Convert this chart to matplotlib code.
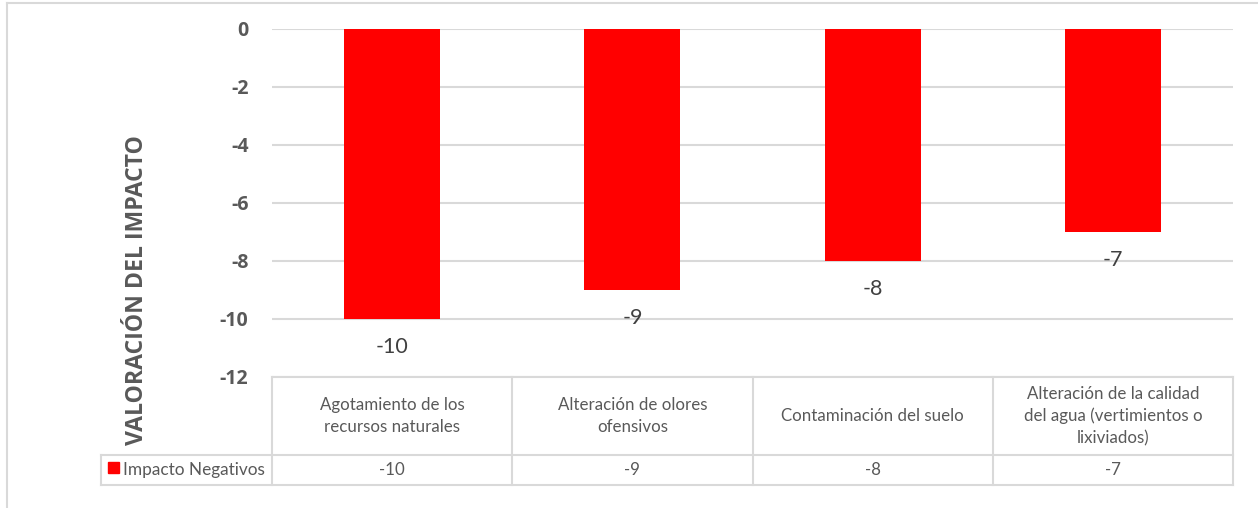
import numpy as np
import matplotlib.pyplot as plt
from matplotlib.lines import Line2D
from matplotlib.patches import Rectangle

# data
categorias = ['Agotamiento de los\nrecursos naturales',
              'Alteración de olores\nofensivos',
              'Contaminación del suelo',
              'Alteración de la calidad\ndel agua (vertimientos o\nlixiviados)']
valores = [-10, -9, -8, -7]
serie = 'Impacto Negativos'
yticks = [0, -2, -4, -6, -8, -10, -12]

W, H = 1258, 508
fig = plt.figure(figsize=(W/100, H/100), dpi=100)

def fx(px): return px / W
def fy(py): return 1 - py / H

gris = '#d9d9d9'
texto = '#595959'

# plot area
x0, x1, ytop, ybot = 272, 1233, 29, 377
ax = fig.add_axes([fx(x0), fy(ybot), fx(x1) - fx(x0), fy(ytop) - fy(ybot)])
x = np.arange(len(valores))
ax.bar(x, valores, width=0.4, color='#ff0000', zorder=3)
ax.set_xlim(-0.5, len(valores) - 0.5)
ax.set_ylim(-12, 0)
ax.set_yticks(yticks)
ax.set_yticklabels([str(v) for v in yticks], fontfamily='Open Sans', fontweight='bold',
                   fontsize=14, color=texto)
ax.tick_params(axis='y', length=0, pad=17)
ax.set_xticks([])
for s in ax.spines.values():
    s.set_visible(False)
ax.grid(axis='y', color=gris, linewidth=1.5, zorder=0)

# eje y: titulo (Excel lo centra sobre grafico + tabla)
fig.text(fx(137), fy(290), 'VALORACIÓN DEL IMPACTO', rotation=90, ha='center', va='center',
         fontfamily='Open Sans', fontweight='bold', fontsize=16.6, color=texto)

for xi, v in zip(x, valores):
    ax.annotate(str(v), (xi, v), xytext=(0, -13), textcoords='offset points',
                ha='center', va='top', fontfamily='Lato', fontsize=15.5, color='#404040')

# data table under the chart
def hline(xa, xb, y):
    fig.add_artist(Line2D([fx(xa), fx(xb)], [fy(y), fy(y)], color=gris, linewidth=1.5))

def vline(xp, ya, yb):
    fig.add_artist(Line2D([fx(xp), fx(xp)], [fy(ya), fy(yb)], color=gris, linewidth=1.5))

t_top, t_mid, t_bot, t_left = 377, 455, 485, 101
hline(x0, x1, t_top)
hline(t_left, x1, t_mid)
hline(t_left, x1, t_bot)
vline(t_left, t_mid, t_bot)
colw = (x1 - x0) / len(valores)
for i in range(len(valores) + 1):
    vline(x0 + i * colw, t_top, t_bot)

for i, (c, v) in enumerate(zip(categorias, valores)):
    cx = x0 + (i + 0.5) * colw
    fig.text(fx(cx), fy((t_top + t_mid) / 2), c, ha='center', va='center', fontfamily='Lato',
             fontsize=12.2, color=texto, linespacing=1.45)
    fig.text(fx(cx), fy((t_mid + t_bot) / 2), str(v), ha='center', va='center', fontfamily='Lato',
             fontsize=12.2, color=texto)

fig.add_artist(Rectangle((fx(108), fy(473)), fx(11), fy(462) - fy(473), color='#ff0000'))
fig.text(fx(123), fy((t_mid + t_bot) / 2), serie, ha='left', va='center', fontfamily='Lato',
         fontsize=12.4, color=texto)

# chart area border
fig.add_artist(Line2D([fx(7), fx(7)], [fy(3), 0], color=gris, linewidth=1.5))
fig.add_artist(Line2D([fx(7), 1], [fy(3), fy(3)], color=gris, linewidth=1.5))

fig.savefig('out.png', dpi=100)
